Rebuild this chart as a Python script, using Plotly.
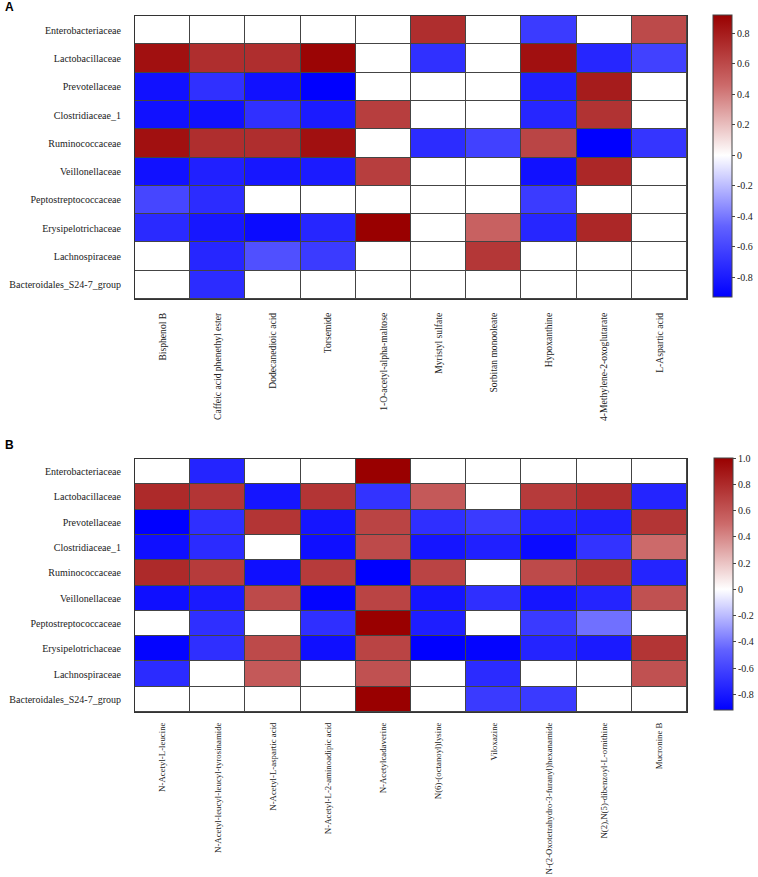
import plotly.graph_objects as go

families = ["Enterobacteriaceae", "Lactobacillaceae", "Prevotellaceae", "Clostridiaceae_1",
            "Ruminococcaceae", "Veillonellaceae", "Peptostreptococcaceae", "Erysipelotrichaceae",
            "Lachnospiraceae", "Bacteroidales_S24-7_group"]

metabolites_a = ["Bisphenol B", "Caffeic acid phenethyl ester", "Dodecanedioic acid", "Torsemide",
                 "1-O-acetyl-alpha-maltose", "Myristyl sulfate", "Sorbitan monooleate", "Hypoxanthine",
                 "4-Methylene-2-oxoglutarate", "L-Aspartic acid"]

metabolites_b = ["N-Acetyl-L-leucine", "N-Acetyl-leucyl-leucyl-tyrosinamide", "N-Acetyl-L-aspartic acid",
                 "N-Acetyl-L-2-aminoadipic acid", "N-Acetylcadaverine", "N(6)-(octanoyl)lysine", "Viloxazine",
                 "N-(2-Oxotetrahydro-3-furanyl)hexanamide", "N(2),N(5)-dibenzoyl-L-ornithine", "Mucronine B"]

corr_a = [
    [0, 0, 0, 0, 0, 0.72, 0, -0.65, 0, 0.6],
    [0.85, 0.72, 0.72, 0.9, 0, -0.7, 0, 0.85, -0.75, -0.62],
    [-0.85, -0.7, -0.85, -0.93, 0, 0, 0, -0.78, 0.8, 0],
    [-0.85, -0.85, -0.7, -0.8, 0.65, 0, 0, -0.75, 0.7, 0],
    [0.85, 0.72, 0.72, 0.85, 0, -0.72, -0.62, 0.62, -0.93, -0.68],
    [-0.85, -0.78, -0.82, -0.8, 0.65, 0, 0, -0.85, 0.75, 0],
    [-0.6, -0.72, 0, 0, 0, 0, 0, -0.65, 0, 0],
    [-0.73, -0.82, -0.88, -0.75, 0.92, 0, 0.5, -0.75, 0.75, 0],
    [0, -0.75, -0.55, -0.65, 0, 0, 0.68, 0, 0, 0],
    [0, -0.72, 0, 0, 0, 0, 0, 0, 0, 0],
]

corr_b = [
    [0, -0.75, 0, 0, 1.0, 0, 0, 0, 0, 0],
    [0.8, 0.75, -0.82, 0.75, -0.68, 0.58, 0, 0.72, 0.78, -0.75],
    [-0.92, -0.7, 0.75, -0.82, 0.68, -0.7, -0.65, -0.75, -0.77, 0.75],
    [-0.85, -0.72, 0, -0.85, 0.65, -0.82, -0.77, -0.87, -0.68, 0.5],
    [0.8, 0.72, -0.85, 0.72, -0.92, 0.68, 0, 0.65, 0.75, -0.75],
    [-0.85, -0.8, 0.65, -0.9, 0.68, -0.82, -0.7, -0.82, -0.75, 0.62],
    [0, -0.7, 0, -0.7, 1.0, -0.78, 0, -0.65, -0.42, 0],
    [-0.9, -0.7, 0.65, -0.85, 0.68, -0.95, -0.9, -0.75, -0.8, 0.75],
    [-0.72, 0, 0.58, 0, 0.62, 0, -0.72, 0, 0, 0.62],
    [0, 0, 0, 0, 1.0, 0, -0.65, -0.65, 0, 0],
]

range_a = [-0.93, 0.92]
range_b = [-0.92, 1.0]

ticks_a = [0.8, 0.6, 0.4, 0.2, 0, -0.2, -0.4, -0.6, -0.8]
ticklabels_a = ["0.8", "0.6", "0.4", "0.2", "0", "-0.2", "-0.4", "-0.6", "-0.8"]
ticks_b = [1.0, 0.8, 0.6, 0.4, 0.2, 0, -0.2, -0.4, -0.6, -0.8]
ticklabels_b = ["1.0", "0.8", "0.6", "0.4", "0.2", "0", "-0.2", "-0.4", "-0.6", "-0.8"]

SERIF = "Liberation Serif"
W, H = 758, 877
FS = 10


def scale(lo, hi):
    mid = (0 - lo) / (hi - lo)
    return [[0, "#0000ff"], [mid * 0.5, "#6262ff"], [mid, "#ffffff"],
            [mid + (1 - mid) * 0.5, "#cc6a6a"], [1, "#990000"]]


def cbar(x0, top, bottom, vals, labels):
    return dict(x=x0 / W, xanchor="left", xpad=0, ypad=0,
                y=1 - (top + bottom) / 2 / H, yanchor="middle",
                len=(bottom - top) / H, lenmode="fraction", thickness=19,
                outlinewidth=1, outlinecolor="#444",
                tickvals=vals, ticktext=labels, ticks="outside", ticklen=3,
                tickcolor="#444", tickfont=dict(family=SERIF, size=FS, color="#222"))


fig = go.Figure()

fig.add_trace(go.Heatmap(
    z=corr_a, x=metabolites_a, y=families, xaxis="x", yaxis="y",
    zmin=range_a[0], zmax=range_a[1], colorscale=scale(*range_a),
    xgap=1, ygap=1, hoverongaps=False,
    colorbar=cbar(713, 15, 297, ticks_a, ticklabels_a),
))

fig.add_trace(go.Heatmap(
    z=corr_b, x=metabolites_b, y=families, xaxis="x2", yaxis="y2",
    zmin=range_b[0], zmax=range_b[1], colorscale=scale(*range_b),
    xgap=1, ygap=1, hoverongaps=False,
    colorbar=cbar(714, 458, 710, ticks_b, ticklabels_b),
))

xcommon = dict(tickangle=-90,
               showline=True, mirror=True, linecolor="#333", linewidth=1, automargin=False,
               ticks="", showgrid=False, zeroline=False)
ycommon = dict(autorange="reversed", tickfont=dict(family=SERIF, size=FS, color="#222"),
               showline=True, mirror=True, linecolor="#333", linewidth=1, automargin=False,
               ticks="", showgrid=False, zeroline=False, ticklabelstandoff=11)

fig.update_layout(
    width=W, height=H,
    margin=dict(l=0, r=0, t=0, b=0, autoexpand=False),
    paper_bgcolor="white",
    plot_bgcolor="#444",
    xaxis=dict(domain=[135 / W, 687 / W], anchor="y", ticklabelstandoff=9,
               tickfont=dict(family=SERIF, size=9.6, color="#222"), **xcommon),
    yaxis=dict(domain=[1 - 299 / H, 1 - 16 / H], anchor="x", **ycommon),
    xaxis2=dict(domain=[135 / W, 687 / W], anchor="y2", ticklabelstandoff=6,
                tickfont=dict(family=SERIF, size=8.8, color="#222"), **xcommon),
    yaxis2=dict(domain=[1 - 712 / H, 1 - 459 / H], anchor="x2", **ycommon),
    annotations=[
        dict(text="<b>A</b>", x=3 / W, y=1 - 7 / H, xref="paper", yref="paper",
             xanchor="left", yanchor="middle", showarrow=False,
             font=dict(family="Liberation Sans", size=12, color="black")),
        dict(text="<b>B</b>", x=3 / W, y=1 - 445 / H, xref="paper", yref="paper",
             xanchor="left", yanchor="middle", showarrow=False,
             font=dict(family="Liberation Sans", size=12, color="black")),
    ],
)

fig.write_html("out.html", config={"displayModeBar": False},
               post_script="document.body.style.margin='0';document.body.style.overflow='hidden';")
